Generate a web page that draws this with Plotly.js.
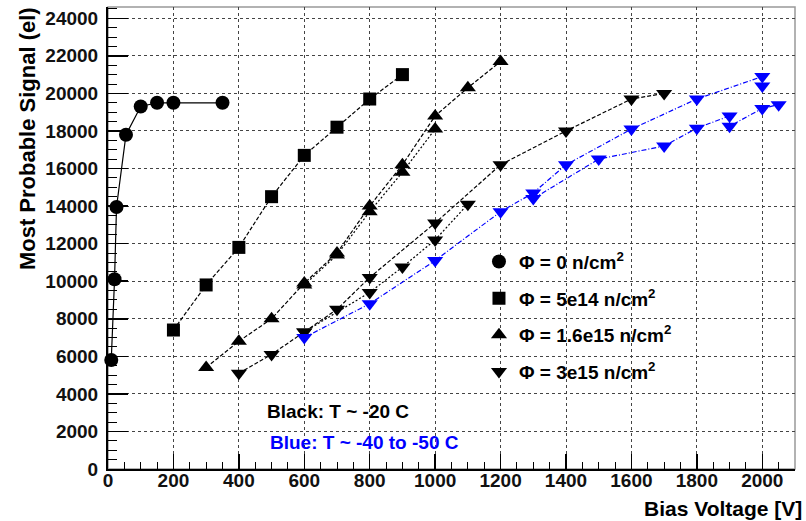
<!DOCTYPE html>
<html>
<head>
<meta charset="utf-8">
<script src="https://cdn.plot.ly/plotly-3.0.1.min.js"></script>
<style>html,body{margin:0;padding:0;background:#fff;}#chart{width:806px;height:521px;}</style>
</head>
<body>
<div id="chart"></div>
<script>
// ---- data ----
const circV = [10, 20, 26, 55, 100, 150, 200, 350];
const circS = [5800, 10100, 13950, 17800, 19300, 19500, 19500, 19500];

const sqV = [200, 300, 400, 500, 600, 700, 800, 900];
const sqS = [7400, 9800, 11800, 14500, 16700, 18200, 19700, 21000];

const upAV = [300, 400, 500, 600, 700, 800, 900, 1000, 1100, 1200];
const upAS = [5400, 6800, 8000, 9900, 11500, 14000, 16200, 18800, 20300, 21700];
const upBV = [600, 700, 800, 900, 1000];
const upBS = [9800, 11400, 13700, 15800, 18100];

const dnAV = [400, 500, 600, 700, 800, 1000, 1200, 1400, 1600, 1700];
const dnAS = [5100, 6100, 7300, 8500, 10200, 13100, 16200, 18000, 19700, 20000];
const dnBV = [600, 800, 900, 1000, 1100];
const dnBS = [7300, 9400, 10750, 12200, 14100];

const blueAV = [600, 800, 1000, 1200, 1300, 1400, 1600, 1800, 2000, 2000];
const blueAS = [7000, 8800, 11100, 13700, 14700, 16200, 18100, 19700, 20900, 20400];
const blueBV = [1300, 1500, 1700, 1800, 1900, 1900, 2000, 2050];
const blueBS = [14400, 16500, 17200, 18150, 18800, 18250, 19200, 19400];

const legendLabels = [
  'Φ = 0 n/cm<sup>2</sup>',
  'Φ = 5e14 n/cm<sup>2</sup>',
  'Φ = 1.6e15 n/cm<sup>2</sup>',
  'Φ = 3e15 n/cm<sup>2</sup>'
];
const xTitle = 'Bias Voltage [V]';
const yTitle = 'Most Probable Signal (el)';
const noteBlack = 'Black: T ~ -20 C';
const noteBlue = 'Blue: T ~ -40 to -50 C';

// ---- styles ----
const BLACK = '#000000';
const BLUE = '#0000ff';
const FONT = 'Liberation Sans, Arial, Helvetica, sans-serif';

function lineTrace(x, y, color, dash) {
  return {x: x, y: y, type: 'scatter', mode: 'lines', showlegend: false,
    hoverinfo: 'skip', cliponaxis: false,
    line: {color: color, width: 1.2, dash: dash}};
}
function markTrace(x, y, color, symbol, size, name, show, group) {
  return {x: x, y: y, type: 'scatter', mode: 'markers', name: name,
    showlegend: show, legendgroup: group, cliponaxis: false,
    marker: {color: color, symbol: symbol, size: size, line: {width: 0}}};
}

const traces = [
  lineTrace(circV, circS, BLACK, 'solid'),
  lineTrace(sqV, sqS, BLACK, '4px,2px'),
  lineTrace(upAV, upAS, BLACK, '4px,2px'),
  lineTrace(upBV, upBS, BLACK, '2px,2px'),
  lineTrace(dnAV, dnAS, BLACK, '4px,2px'),
  lineTrace(dnBV, dnBS, BLACK, '2px,2px'),
  lineTrace(blueAV, blueAS, BLUE, '5px,2px,1px,2px'),
  lineTrace(blueBV, blueBS, BLUE, '5px,2px,1px,2px'),
  markTrace(circV, circS, BLACK, 'circle', 14, legendLabels[0], true, 'g1'),
  markTrace(sqV, sqS, BLACK, 'square', 13, legendLabels[1], true, 'g2'),
  markTrace(upAV, upAS, BLACK, 'triangle-up', 14, legendLabels[2], true, 'g3'),
  markTrace(upBV, upBS, BLACK, 'triangle-up', 14, legendLabels[2], false, 'g3'),
  markTrace(dnAV, dnAS, BLACK, 'triangle-down', 14, legendLabels[3], true, 'g4'),
  markTrace(dnBV, dnBS, BLACK, 'triangle-down', 14, legendLabels[3], false, 'g4'),
  markTrace(blueAV, blueAS, BLUE, 'triangle-down', 14, legendLabels[3], false, 'g4'),
  markTrace(blueBV, blueBS, BLUE, 'triangle-down', 14, legendLabels[3], false, 'g4')
];

const tickFont = {family: FONT, size: 19, color: '#111', weight: 'bold'};

const layout = {
  width: 806, height: 521,
  margin: {l: 108, r: 11, t: 7, b: 52},
  paper_bgcolor: '#ffffff', plot_bgcolor: '#ffffff',
  showlegend: true,
  legend: {x: 0.54, y: 0.49, xanchor: 'left', yanchor: 'top',
    bgcolor: 'rgba(0,0,0,0)', borderwidth: 0,
    font: {family: FONT, size: 19, color: '#000', weight: 'bold'},
    traceorder: 'grouped', tracegroupgap: 9, itemwidth: 30},
  xaxis: {range: [0, 2100], dtick: 200, tick0: 0, tickformat: 'd',
    showline: true, linecolor: '#000', linewidth: 2,
    ticks: 'inside', ticklen: 15, tickwidth: 1.5, tickcolor: '#000',
    minor: {dtick: 50, ticks: 'inside', ticklen: 7, tickwidth: 1, tickcolor: '#000', showgrid: false},
    showgrid: true, gridcolor: '#444', griddash: 'dot', gridwidth: 1,
    zeroline: false, tickfont: tickFont, ticklabelstandoff: -7},
  yaxis: {range: [0, 24600], dtick: 2000, tick0: 0, tickformat: 'd',
    showline: true, linecolor: '#000', linewidth: 2,
    ticks: 'inside', ticklen: 20, tickwidth: 1.5, tickcolor: '#000',
    minor: {dtick: 500, ticks: 'inside', ticklen: 9, tickwidth: 1, tickcolor: '#000', showgrid: false},
    showgrid: true, gridcolor: '#444', griddash: 'dot', gridwidth: 1,
    zeroline: false, tickfont: tickFont, ticklabelstandoff: 4},
  shapes: [{type: 'rect', xref: 'paper', yref: 'paper', x0: 0, x1: 1, y0: 0, y1: 1,
    line: {color: '#999', width: 1.5}, layer: 'below'}],
  annotations: [
    {text: xTitle, xref: 'paper', yref: 'paper', x: 1.013, y: -0.086,
     xanchor: 'right', yanchor: 'middle', showarrow: false,
     font: {family: FONT, size: 21, color: '#000', weight: 'bold'}},
    {text: yTitle, xref: 'paper', yref: 'paper', x: -0.118, y: 1.005,
     xanchor: 'center', yanchor: 'top', textangle: -90, showarrow: false,
     font: {family: FONT, size: 22, color: '#000', weight: 'bold'}},
    {text: noteBlack, xref: 'paper', yref: 'paper', x: 0.2285, y: 0.1234,
     xanchor: 'left', yanchor: 'middle', showarrow: false,
     font: {family: FONT, size: 19, color: '#000', weight: 'bold'}},
    {text: noteBlue, xref: 'paper', yref: 'paper', x: 0.233, y: 0.058,
     xanchor: 'left', yanchor: 'middle', showarrow: false,
     font: {family: FONT, size: 19, color: BLUE, weight: 'bold'}}
  ]
};

Plotly.newPlot('chart', traces, layout, {staticPlot: true, displayModeBar: false});
</script>
</body>
</html>
